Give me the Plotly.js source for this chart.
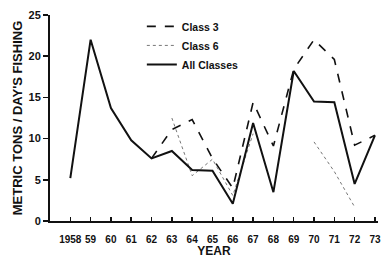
<!DOCTYPE html>
<html>
<head>
<meta charset="utf-8">
<script src="https://cdn.plot.ly/plotly-3.0.1.min.js"></script>
<style>html,body{margin:0;padding:0;background:#fff;}#chart{width:381px;height:258px;}</style>
</head>
<body>
<div id="chart"></div>
<script>
var years = [1958,1959,1960,1961,1962,1963,1964,1965,1966,1967,1968,1969,1970,1971,1972,1973];
var tickLabels = ["1958","59","60","61","62","63","64","65","66","67","68","69","70","71","72","73"];
var class3 = [null,null,null,null,7.6,11.1,12.3,7.6,4.0,14.4,9.1,18.4,22.0,19.6,9.2,10.4];
var class6 = [null,null,null,null,null,12.5,5.5,7.5,3.1,10.6,null,null,9.6,6.0,1.7,null];
var allClasses = [5.2,22.0,13.7,9.8,7.6,8.5,6.2,6.1,2.1,11.9,3.5,18.2,14.5,14.4,4.5,10.4];

var F = "Liberation Sans, Arial, sans-serif";
var traces = [
  {x: years, y: class3, name: "Class 3", mode: "lines", line: {color: "#111", width: 1.6, dash: "dash"}},
  {x: years, y: class6, name: "Class 6", mode: "lines", line: {color: "#777", width: 1, dash: "dot"}},
  {x: years, y: allClasses, name: "All Classes", mode: "lines", line: {color: "#111", width: 2}}
];
var layout = {
  width: 381, height: 258,
  margin: {l: 50, r: 3, t: 15, b: 37},
  paper_bgcolor: "#fff", plot_bgcolor: "#fff",
  font: {family: F, color: "#111", size: 11, weight: "bold"},
  showlegend: true,
  legend: {x: 0.28, y: 1.015, xanchor: "left", yanchor: "top", bgcolor: "rgba(0,0,0,0)",
           font: {family: F, size: 10.5, weight: "bold", color: "#111"}, tracegroupgap: 0, itemwidth: 30},
  xaxis: {
    range: [1957.0, 1973.15], tickvals: years, ticktext: tickLabels, tickangle: 0,
    showgrid: false, zeroline: false, showline: true, linecolor: "#111", linewidth: 2,
    ticks: "inside", ticklen: 4, tickwidth: 1.5, tickcolor: "#111",
    ticklabelstandoff: 8,
    tickfont: {family: F, size: 10, weight: "bold"},
    title: {text: "YEAR", font: {family: F, size: 12, weight: "bold"}, standoff: 2}
  },
  yaxis: {
    range: [0, 25], tickvals: [0,5,10,15,20,25],
    showgrid: false, zeroline: false, showline: true, linecolor: "#111", linewidth: 2,
    ticks: "outside", ticklen: 5, tickwidth: 1.5, tickcolor: "#111",
    tickfont: {family: F, size: 11, weight: "bold"},
    title: {text: "METRIC TONS / DAY'S FISHING", font: {family: F, size: 13, weight: "bold"}, standoff: 3}
  }
};
Plotly.newPlot("chart", traces, layout, {displayModeBar: false, staticPlot: true});
</script>
</body>
</html>
